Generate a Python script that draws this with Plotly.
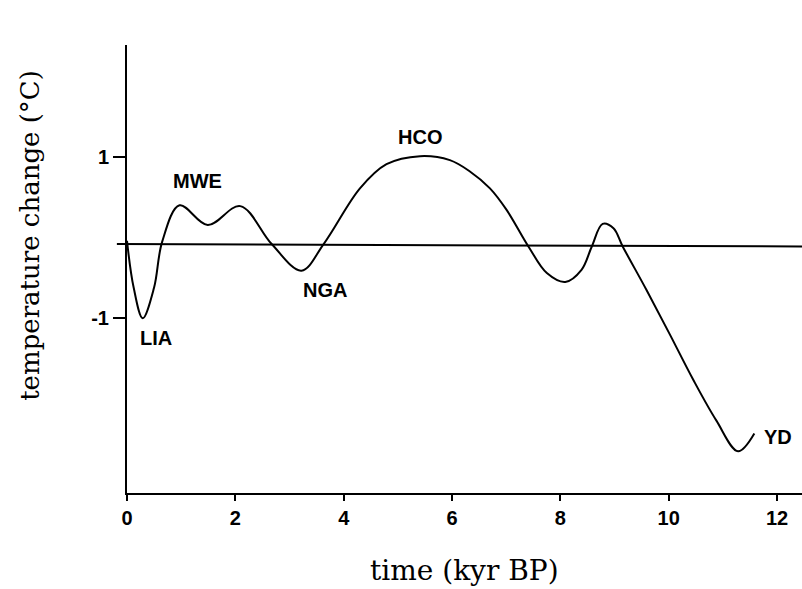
import plotly.graph_objects as go

# --- data ---
time_kyr = [0.0, 0.12, 0.29, 0.50, 0.65, 0.97, 1.49, 2.09, 2.67, 3.22, 3.63,
            4.30, 4.79, 5.41, 5.96, 6.33, 6.70, 7.01, 7.41, 7.75, 8.09, 8.39, 8.58, 8.78, 8.98, 9.15,
            9.59, 10.02, 10.45, 10.88, 11.28, 11.58]
temp_change = [-0.04, -0.61, -1.0, -0.62, -0.05, 0.40, 0.156, 0.39, -0.08, -0.41, -0.08,
               0.61, 0.91, 1.01, 0.96, 0.82, 0.61, 0.34, -0.11, -0.44, -0.55, -0.40, -0.11, 0.17, 0.115, -0.11,
               -0.65, -1.20, -1.76, -2.27, -2.65, -2.43]

event_labels = ["LIA", "MWE", "NGA", "HCO", "YD"]
event_x = [0.53, 1.30, 3.655, 5.41, 12.01]
event_y = [-1.25, 0.70, -0.65, 1.25, -2.47]

reference_level = [-0.08, -0.11]   # the horizontal reference line (left, right)

x_tick_vals = [0, 2, 4, 6, 8, 10, 12]
x_tick_text = ["0", "2", "4", "6", "8", "10", "12"]
y_tick_vals = [1, -1]
y_tick_text = ["1", "-1"]

fig = go.Figure()

fig.add_trace(go.Scatter(
    x=time_kyr, y=temp_change, mode="lines",
    line=dict(color="black", width=2, shape="spline", smoothing=1.0),
    hoverinfo="skip", showlegend=False,
))

# horizontal reference line
fig.add_shape(type="line", xref="paper", yref="y",
              x0=-0.015, x1=1.0, y0=reference_level[0], y1=reference_level[1],
              line=dict(color="black", width=2))

label_font = dict(family="Liberation Sans", size=20, color="black", weight="bold")
for t, xv, yv in zip(event_labels, event_x, event_y):
    fig.add_annotation(x=xv, y=yv, text=t, showarrow=False, font=label_font,
                       xanchor="center", yanchor="middle")

title_font = dict(family="DejaVu Serif", size=26, color="black")
fig.add_annotation(xref="paper", yref="paper", x=-0.1437, y=0.574,
                   text="temperature change (°C)", textangle=-90, showarrow=False,
                   font=title_font, xanchor="center", yanchor="middle")
fig.add_annotation(xref="paper", yref="paper", x=0.5007, y=-0.174,
                   text="time (kyr BP)", showarrow=False,
                   font=dict(family="DejaVu Serif", size=28, color="black"),
                   xanchor="center", yanchor="middle")

tick_font = dict(family="Liberation Sans", size=20, color="black", weight="bold")

fig.update_layout(
    width=802, height=589,
    margin=dict(l=127, r=0, t=45, b=96),
    paper_bgcolor="white", plot_bgcolor="white",
    xaxis=dict(range=[0, 12.46], showline=True, linewidth=2, linecolor="black",
               ticks="outside", ticklen=6, tickwidth=1.5, tickcolor="black",
               tickvals=x_tick_vals, ticktext=x_tick_text, tickfont=tick_font,
               showgrid=False, zeroline=False),
    yaxis=dict(range=[-3.167, 2.388], showline=True, linewidth=2, linecolor="black",
               ticks="outside", ticklen=12, tickwidth=1.5, tickcolor="black",
               tickvals=y_tick_vals, ticktext=y_tick_text, tickfont=tick_font,
               showgrid=False, zeroline=False),
)

fig.write_html("out.html")
